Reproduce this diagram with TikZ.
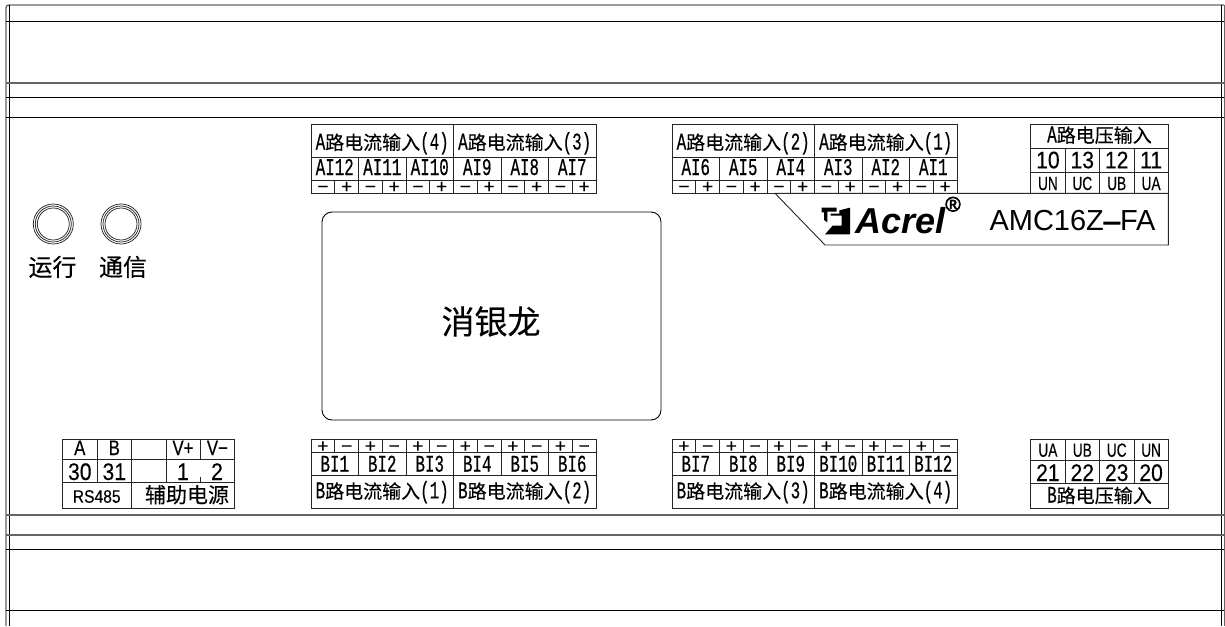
\documentclass[tikz,border=0pt]{standalone}
\usepackage{fontspec}
\setmainfont{Liberation Sans}
\newfontfamily\cjk[FakeBold=.25]{Noto Sans CJK SC}
\newfontfamily\latn[FakeStretch=.66,FakeBold=.45]{Liberation Mono}
\newfontfamily\narr[FakeStretch=.72,FakeBold=.3]{Liberation Sans}
\newfontfamily\capf[FakeStretch=.8,FakeBold=.3]{Liberation Sans}
\newfontfamily\rsf[FakeStretch=.87,FakeBold=.2]{Liberation Sans}
\newfontfamily\arial[FakeStretch=.88,FakeBold=.2]{Liberation Sans}
\newfontfamily\signf[FakeBold=.4]{Liberation Sans}
\newfontfamily\heavy[FakeBold=3]{Liberation Sans}
\newcommand\fs[1]{\fontsize{#1}{#1}\selectfont}
\newcommand\hdr[2]{{\latn\fs{24}#1}{\cjk\fs{19}#2}}
\newcommand\ptl[1]{{\latn\fs{24}(#1)}}
\tikzset{
  x=1pt,y=-1pt,
  gridline/.style={line width=.9pt,draw=black!85},
  frameblack/.style={line width=1pt,draw=black},
  framegray/.style={line width=1.3pt,draw=black!60},
  txt/.style={inner sep=0pt,outer sep=0pt,anchor=base,text=black},
  hdrtxt/.style={txt},
  ailab/.style={txt,font=\latn\fs{24}},
  numlab/.style={txt,font=\arial\fs{24}},
  unlab/.style={txt,font=\narr\fs{19}},
  caplab/.style={txt,font=\capf\fs{21}},
  signlab/.style={txt,font=\signf\fs{19}},
  cjklab/.style={txt,font=\cjk\fs{24}},
  ledring/.style={line width=.75pt,draw=black!85},
}
\begin{document}
\begin{tikzpicture}
\useasboundingbox (0,0) rectangle (1225,626);
% --- outer frame
\draw[framegray] (6,626) -- (6,8) .. controls (6,6) and (7,5) .. (9,5) -- (1224,5);
\draw[framegray] (1224.5,5) -- (1224.5,626);
\draw[frameblack] (9,5) -- (9,626);
\draw[frameblack] (1221.5,5) -- (1221.5,626);
\foreach \y in {22,83,97,117.5,535,549,610} \draw[frameblack] (6,\y) -- (1224,\y);
\draw[framegray] (6,83) -- (1224,83);
\draw[framegray] (6,515) -- (1224,515);
\draw[framegray] (6,535) -- (1224,535);
% --- top current tables
\foreach \x/\pre in {311/ta,672/tb}{
  \draw[gridline] (\x,124.3) rectangle (\x+285,193);
  \draw[gridline] (\x,157) -- (\x+285,157) (\x,180) -- (\x+285,180);
  \draw[gridline] (\x+142.5,124.3) -- (\x+142.5,193);
  \foreach \i in {1,...,5}\draw[gridline] (\x+47.5*\i,157) -- (\x+47.5*\i,193);
  \foreach \i in {1,...,11}\draw[gridline] (\x+23.75*\i,180) -- (\x+23.75*\i,193);
  \foreach \i in {0,...,5}{
    \node[signlab] (\pre m\i) at (\x+11.875+47.5*\i,192.8) {−};
    \node[signlab] (\pre p\i) at (\x+35.625+47.5*\i,192.8) {+};
  }
}
\node[hdrtxt] (h4) at (382.2,149.5) {\hdr{A}{路电流输入}\ptl{4}};
\node[hdrtxt] (h3) at (524.7,149.5) {\hdr{A}{路电流输入}\ptl{3}};
\node[hdrtxt] (h2) at (743.2,149.5) {\hdr{A}{路电流输入}\ptl{2}};
\node[hdrtxt] (h1) at (885.7,149.5) {\hdr{A}{路电流输入}\ptl{1}};
\foreach \n [count=\i] in {AI12,AI11,AI10,AI9,AI8,AI7}
  \node[ailab] (la\i) at ({311+47.5*(\i-.5)},175) {\n};
\foreach \n [count=\i] in {AI6,AI5,AI4,AI3,AI2,AI1}
  \node[ailab] (lb\i) at ({672+47.5*(\i-.5)},175) {\n};
% --- top voltage table
\draw[gridline] (1030.7,124) rectangle (1168.3,193.3);
\draw[gridline] (1030.7,148.3) -- (1168.3,148.3) (1030.7,172.7) -- (1168.3,172.7);
\foreach \x in {1065,1099.5,1134}\draw[gridline] (\x,148.3) -- (\x,193.3);
\node[hdrtxt] (hv1) at (1099.5,142.3) {\hdr{A}{路电压输入}};
\foreach \n/\u [count=\i] in {10/UN,13/UC,12/UB,11/UA}{
  \node[numlab] (nv\i) at ({1030.7+34.4*(\i-.5)},168.3) {\n};
  \node[unlab] (uv\i) at ({1030.7+34.4*(\i-.5)},190) {\u};
}
% --- model plate
\coordinate (pa) at (775,193.3);
\coordinate (pb) at (1168.3,193.3);
\coordinate (pc) at (1168.3,245);
\coordinate (pd) at (825,245);
\draw[gridline] (pa) -- (pb) -- (pc) -- (pd) -- cycle;
\begin{scope}[shift={(770,185)},x=.3333pt,y=-.3333pt]
  \fill (155,68) -- (200,68) -- (200,80) -- (172,80) -- (172,112) -- (162,105) -- (162,82) -- (155,82) -- cycle;
  \fill (240,68) -- (240,148) -- (165,148) -- (188,122) -- (215,122) -- (215,92) -- (182,92) -- (182,86) -- (208,86) -- (208,76) -- cycle;
\end{scope}
\node[txt] (acrel) at (900.5,233) {\fs{36}\bfseries\itshape Acrel};
\node[txt] (regd) at (953,211.5) {\heavy\fs{21}®};
\node[txt] (model) at (1072.5,230.5) {\fs{29}AMC16Z{\heavy –}FA};
% --- LEDs
\foreach \x/\nm in {53.3/r,121/c}{
  \foreach \r/\q in {20/1,18/2,16/3}
    \draw[ledring] (\x,224) circle[radius=\r];
}
\node[cjklab] (run) at (52.5,276) {运行};
\node[cjklab] (com) at (123,276) {通信};
% --- display
\draw[line width=.9pt,rounded corners=10pt] (322,212) rectangle (661,420);
\node[txt,font=\cjk\fs{33}] (name) at (491,334) {消银龙};
% --- bottom left table
\draw[gridline] (62.3,439) rectangle (234.7,508.3);
\draw[gridline] (62.3,459.3) -- (234.7,459.3) (62.3,482.7) -- (234.7,482.7);
\foreach \x in {97.3,131.3,166}\draw[gridline] (\x,439) -- (\x,482.7);
\draw[gridline] (200,439) -- (200,459.3) (200,477) -- (200,482.7);
\draw[gridline] (131.3,482.7) -- (131.3,508.3);
\node[caplab] (ta) at (79.8,455) {A};
\node[caplab] (tbb) at (114.3,455) {B};
\node[caplab] (tvp) at (183,455) {V+};
\node[caplab] (tvm) at (217.4,455) {V−};
\node[numlab] (n30) at (79.8,480) {30};
\node[numlab] (n31) at (114.3,480) {31};
\node[numlab] (n1) at (183,480) {1};
\node[numlab] (n2) at (217,480) {2};
\node[txt,font=\rsf\fs{18}] (rs) at (96.7,502.7) {RS485};
\node[txt,font=\cjk\fs{21}] (aux) at (187,502.7) {辅助电源};
% --- bottom current tables
\foreach \x/\pre in {311/ba,672/bb}{
  \draw[gridline] (\x,439) rectangle (\x+285,508.3);
  \draw[gridline] (\x,452.7) -- (\x+285,452.7) (\x,475) -- (\x+285,475);
  \draw[gridline] (\x+142.5,439) -- (\x+142.5,508.3);
  \foreach \i in {1,...,5}\draw[gridline] (\x+47.5*\i,439) -- (\x+47.5*\i,475);
  \foreach \i in {1,...,11}\draw[gridline] (\x+23.75*\i,439) -- (\x+23.75*\i,452.7);
  \foreach \i in {0,...,5}{
    \node[signlab] (\pre p\i) at (\x+11.875+47.5*\i,452.3) {+};
    \node[signlab] (\pre m\i) at (\x+35.625+47.5*\i,452.3) {−};
  }
}
\foreach \n [count=\i] in {BI1,BI2,BI3,BI4,BI5,BI6}
  \node[ailab] (lc\i) at ({311+47.5*(\i-.5)},471.7) {\n};
\foreach \n [count=\i] in {BI7,BI8,BI9,BI10,BI11,BI12}
  \node[ailab] (ld\i) at ({672+47.5*(\i-.5)},471.7) {\n};
\node[hdrtxt] (g1) at (382.2,498.3) {\hdr{B}{路电流输入}\ptl{1}};
\node[hdrtxt] (g2) at (524.7,498.3) {\hdr{B}{路电流输入}\ptl{2}};
\node[hdrtxt] (g3) at (743.2,498.3) {\hdr{B}{路电流输入}\ptl{3}};
\node[hdrtxt] (g4) at (885.7,498.3) {\hdr{B}{路电流输入}\ptl{4}};
% --- bottom voltage table
\draw[gridline] (1030.7,439) rectangle (1168.3,508.3);
\draw[gridline] (1030.7,460) -- (1168.3,460) (1030.7,483.3) -- (1168.3,483.3);
\foreach \x in {1065,1099.5,1134}\draw[gridline] (\x,439) -- (\x,483.3);
\foreach \n/\u [count=\i] in {21/UA,22/UB,23/UC,20/UN}{
  \node[unlab] (uw\i) at ({1030.7+34.4*(\i-.5)},456.7) {\u};
  \node[numlab] (nw\i) at ({1030.7+34.4*(\i-.5)},481) {\n};
}
\node[hdrtxt] (hv2) at (1099.5,502.7) {\hdr{B}{路电压输入}};
\end{tikzpicture}
\end{document}
